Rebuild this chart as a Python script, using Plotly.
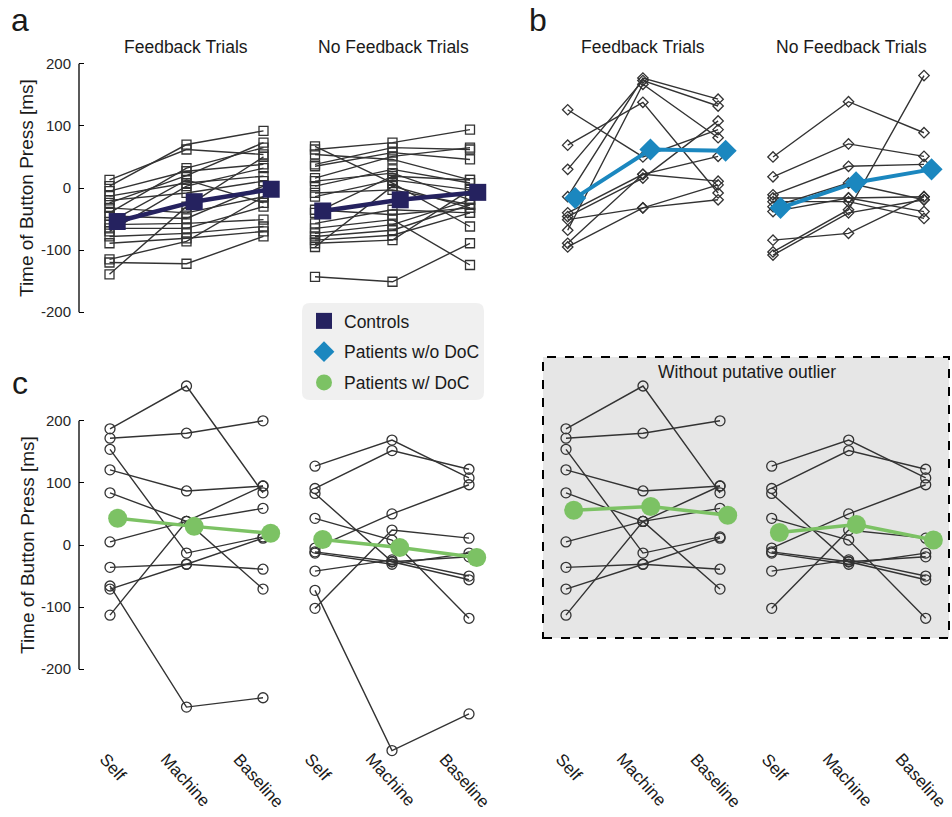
import plotly.graph_objects as go

W, H = 952, 817

categories = ["Self", "Machine", "Baseline"]
y_ticks = [-200, -100, 0, 100, 200]
y_tick_text = ["-200", "-100", "0", "100", "200"]

# (Self, Machine, Baseline) per participant
ctrl_fb = [(13, 62, 54), (3, 70, 92), (-5, 27, 38), (-13, 8, 19), (-20, -8, 11),
           (-24, 20, 73), (-32, -40, -14), (-40, 32, 65), (-45, -49, 3), (-55, 13, -24),
           (-59, -57, -51), (-65, -65, -30), (-70, 3, 32), (-78, -73, -62), (-89, -81, -70),
           (-115, -86, -14), (-120, -122, -78), (-139, -30, 50)]
ctrl_fb_mean = [-54, -22, -2]

ctrl_nf = [(67, 8, -62), (62, 73, 94), (54, 46, 13), (38, 65, 62), (35, 57, 46),
           (16, 51, 65), (11, 24, -19), (3, 30, 8), (-8, -3, -27), (-14, 13, -3),
           (-35, -43, -32), (-40, 19, 13), (-57, -35, -40), (-65, -51, -124), (-73, -59, -19),
           (-78, -68, -27), (-84, -76, -40), (-89, -84, -3), (-95, 3, -32), (-143, -151, -89)]
ctrl_nf_mean = [-37, -19, -7]

pat_fb = [(126, 50, 94), (69, 138, -8), (30, 173, 132), (-14, 177, 143), (-40, 22, 11),
          (-46, 16, 108), (-51, -32, 5), (-68, 167, 81), (-89, 22, 51), (-95, -32, -19)]
pat_fb_mean = [-16, 62, 60]

pat_nf = [(50, 139, 89), (18, 71, 51), (-11, 35, 38), (-16, -16, -14), (-22, -22, -49),
          (-30, 8, -19), (-38, -16, -38), (-84, -73, -14), (-103, -35, 181), (-108, -40, -19)]
pat_nf_mean = [-32, 9, 30]

doc_fb = [(187, 256, 84), (172, 180, 200), (154, -13, 13), (121, 87, 95), (84, 38, -71),
          (5, 38, 59), (-36, -31, -39), (-71, -31, 11), (-66, -261, -246), (-113, 38, 95)]
doc_fb_mean = [43, 30, 19]

doc_nf = [(127, 169, 108), (91, 152, 122), (83, -27, -56), (43, 8, -118), (-5, 50, 97),
          (-11, -27, -19), (-13, -31, -13), (-42, -24, -50), (-73, -331, -272), (-102, 24, 11)]
doc_nf_mean = [9, -4, -20]

outlier = 8
doc_fb_clean_mean = [56, 62, 48]
doc_nf_clean_mean = [20, 33, 8]

NAVY, BLUE, GREEN = "#25225f", "#1b87bf", "#7cc264"
INDIV = "#333333"
FONT = "Liberation Sans, Arial, sans-serif"
MEAN_OFFSET = 0.1
LABEL_XSHIFT = [3, -2, -5]


def px(x):
    return x / W


def py(y):
    return 1 - y / H


# row geometry (pixels): top, bottom, zero-line pixel, px per ms
ROW_AB = dict(top=50, bottom=322, zero=188, scale=0.621)
ROW_C = dict(top=375, bottom=752, zero=545, scale=0.621)


def yrange(row):
    return [(row["zero"] - row["bottom"]) / row["scale"], (row["zero"] - row["top"]) / row["scale"]]


panels = [
    dict(n=1, dom=(79, 290), x0=109.5, dx=77, row=ROW_AB, data=ctrl_fb, mean=ctrl_fb_mean,
         color=NAVY, sym="square", ms=9, mms=17, lw=4.5),
    dict(n=2, dom=(292, 490), x0=315, dx=77.5, row=ROW_AB, data=ctrl_nf, mean=ctrl_nf_mean,
         color=NAVY, sym="square", ms=9, mms=17, lw=4.5),
    dict(n=3, dom=(540, 745), x0=567.7, dx=75.2, row=ROW_AB, data=pat_fb, mean=pat_fb_mean,
         color=BLUE, sym="diamond", ms=8, mms=17, lw=4),
    dict(n=4, dom=(747, 950), x0=773, dx=75.5, row=ROW_AB, data=pat_nf, mean=pat_nf_mean,
         color=BLUE, sym="diamond", ms=8, mms=17, lw=4),
    dict(n=5, dom=(79, 290), x0=110, dx=76.5, row=ROW_C, data=doc_fb, mean=doc_fb_mean,
         color=GREEN, sym="circle", ms=10, mms=19, lw=3.5),
    dict(n=6, dom=(292, 490), x0=315, dx=77, row=ROW_C, data=doc_nf, mean=doc_nf_mean,
         color=GREEN, sym="circle", ms=10, mms=19, lw=3.5),
    dict(n=7, dom=(545, 745), x0=566, dx=77, row=ROW_C,
         data=[d for i, d in enumerate(doc_fb) if i != outlier], mean=doc_fb_clean_mean,
         color=GREEN, sym="circle", ms=10, mms=19, lw=3.5),
    dict(n=8, dom=(747, 950), x0=771.7, dx=77, row=ROW_C,
         data=[d for i, d in enumerate(doc_nf) if i != outlier], mean=doc_nf_clean_mean,
         color=GREEN, sym="circle", ms=10, mms=19, lw=3.5),
]

fig = go.Figure()
layout = {}
shapes = []
annotations = []

for p in panels:
    n = p["n"]
    xa = "x" if n == 1 else f"x{n}"
    ya = "y" if n == 1 else f"y{n}"
    xs, ys = [], []
    for subj in p["data"]:
        xs += [0, 1, 2, None]
        ys += list(subj) + [None]
    fig.add_trace(go.Scatter(
        x=xs, y=ys, xaxis=xa, yaxis=ya, mode="lines+markers", showlegend=False,
        line=dict(color=INDIV, width=1.4), cliponaxis=False, hoverinfo="skip",
        marker=dict(symbol=p["sym"] + "-open", size=p["ms"], color=INDIV, line=dict(width=1.3, color=INDIV))))
    fig.add_trace(go.Scatter(
        x=[i + MEAN_OFFSET for i in range(3)], y=p["mean"], xaxis=xa, yaxis=ya,
        mode="lines+markers", showlegend=False, cliponaxis=False,
        line=dict(color=p["color"], width=p["lw"]),
        marker=dict(symbol=p["sym"], size=p["mms"], color=p["color"], line=dict(width=0))))

    d0, d1 = p["dom"]
    xr = [-(p["x0"] - d0) / p["dx"], (d1 - p["x0"]) / p["dx"]]
    row = p["row"]
    xkey = "xaxis" if n == 1 else f"xaxis{n}"
    ykey = "yaxis" if n == 1 else f"yaxis{n}"
    layout[xkey] = dict(
        domain=[px(d0), px(d1)], range=xr, anchor=ya, showgrid=False, zeroline=False,
        showline=False, ticks="", showticklabels=False, automargin=False)
    left_axis = n in (1, 5)
    layout[ykey] = dict(
        domain=[py(row["bottom"]), py(row["top"])], range=yrange(row), anchor=xa,
        showgrid=False, zeroline=False, showline=False, visible=left_axis, automargin=False,
        tickvals=y_ticks, ticktext=y_tick_text, ticks="inside", ticklen=5, tickwidth=1.3,
        tickcolor="black", ticklabelstandoff=7, tickfont=dict(family=FONT, size=15, color="#262626"))
    if left_axis:
        shapes.append(dict(type="line", xref="paper", yref=ya, x0=px(d0), x1=px(d0),
                           y0=-200, y1=200, line=dict(color="black", width=1.3)))
    if row is ROW_C:
        # rotated category labels, centred under each category
        for i, cat in enumerate(categories):
            annotations.append(dict(x=i, y=py(row["bottom"]), xref=xa, yref="paper", text=cat,
                                    showarrow=False, textangle=48, xanchor="center", yanchor="top",
                                    xshift=LABEL_XSHIFT[i], yshift=5,
                                    font=dict(family=FONT, size=17, color="#1a1a1a")))

# legend entries
for name, col, sym in [("Controls", NAVY, "square"), ("Patients w/o DoC", BLUE, "diamond"),
                       ("Patients w/ DoC", GREEN, "circle")]:
    fig.add_trace(go.Scatter(x=[None], y=[None], mode="markers", name=name, legendgroup=name,
                             marker=dict(symbol=sym, size=20, color=col)))

# gray box for panel without outlier
shapes.append(dict(type="rect", xref="paper", yref="paper", x0=px(543), x1=px(949),
                   y0=py(638), y1=py(357), fillcolor="#e6e6e6",
                   line=dict(color="black", width=2, dash="dash"), layer="below"))


def P(x, y):
    return f"{px(x):.5f},{py(y):.5f}"


# rounded legend background
lx0, lx1, ly0, ly1, r = 302, 484, 303, 400, 8
path = (f"M {P(lx0 + r, ly0)} L {P(lx1 - r, ly0)} Q {P(lx1, ly0)} {P(lx1, ly0 + r)} "
        f"L {P(lx1, ly1 - r)} Q {P(lx1, ly1)} {P(lx1 - r, ly1)} L {P(lx0 + r, ly1)} "
        f"Q {P(lx0, ly1)} {P(lx0, ly1 - r)} L {P(lx0, ly0 + r)} Q {P(lx0, ly0)} {P(lx0 + r, ly0)} Z")
shapes.append(dict(type="path", xref="paper", yref="paper", path=path,
                   fillcolor="#f0f0f0", line=dict(width=0), layer="below"))


def text(x, y, s, size, angle=0):
    annotations.append(dict(x=px(x), y=py(y), xref="paper", yref="paper", text=s, showarrow=False,
                            textangle=angle, xanchor="center", yanchor="middle",
                            font=dict(family=FONT, size=size, color="#1a1a1a")))


text(186, 47, "Feedback Trials", 17.5)
text(393, 47, "No Feedback Trials", 17.5)
text(643, 47, "Feedback Trials", 17.5)
text(851, 47, "No Feedback Trials", 17.5)
text(20, 20, "a", 32)
text(538, 20, "b", 32)
text(20, 383, "c", 32)
text(27, 188, "Time of Button Press [ms]", 19, angle=-90)
text(27, 545, "Time of Button Press [ms]", 19, angle=-90)
text(747, 372, "Without putative outlier", 17.5)

layout.update(
    width=W, height=H, autosize=False, margin=dict(l=0, r=0, t=0, b=0, autoexpand=False),
    paper_bgcolor="white", plot_bgcolor="rgba(0,0,0,0)",
    shapes=shapes, annotations=annotations,
    showlegend=True,
    legend=dict(x=px(304), y=py(303), xanchor="left", yanchor="top", bgcolor="rgba(0,0,0,0)",
                font=dict(family=FONT, size=17.5, color="#1a1a1a"), itemsizing="trace",
                tracegroupgap=5),
    font=dict(family=FONT),
)
fig.update_layout(**layout)

# remove the default page margin so the figure sits at the window's top-left corner
fix_page = "document.body.style.margin='0';document.body.style.overflow='hidden';"
fig.write_html("out.html", config={"responsive": False, "displayModeBar": False},
               post_script=fix_page)
